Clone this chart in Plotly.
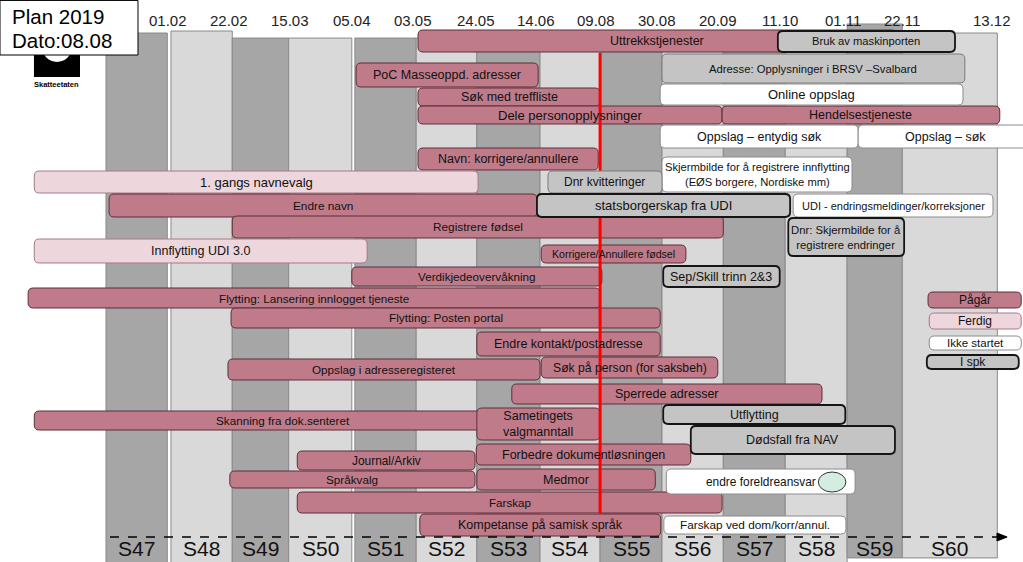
import plotly.graph_objects as go

# ---------------- data ----------------
sprints = ["S47", "S48", "S49", "S50", "S51", "S52", "S53", "S54", "S55", "S56", "S57", "S58", "S59", "S60"]
sprint_start = [0.00, 1.06, 2.06, 2.98, 4.06, 5.06, 6.05, 7.08, 8.06, 9.07, 10.07, 11.08, 12.09, 12.99]
sprint_end = [1.00, 2.06, 2.98, 4.01, 5.06, 6.05, 7.08, 8.06, 9.07, 10.07, 11.08, 12.09, 12.99, 14.54]
sprint_top = [1.50, 1.41, 1.73, 1.73, 1.73, 1.73, 1.73, 1.73, 1.73, 1.73, 1.73, 1.73, 1.09, 1.50]
sprint_bottom = [25.6, 25.6, 25.6, 25.6, 25.6, 25.6, 25.6, 25.6, 25.6, 25.6, 25.6, 25.6, 25.36, 25.36]
sprint_shade = ["dark", "light"] * 7

date_labels = ["01.02", "22.02", "15.03", "05.04", "03.05", "24.05", "14.06",
               "09.08", "30.08", "20.09", "11.10", "01.11", "22.11", "13.12"]
date_pos = [1.01, 2.01, 3.00, 4.01, 5.01, 6.04, 7.01, 7.99, 8.99, 9.98, 10.99, 12.02, 12.99, 14.45]

today_pos = 8.06  # 08.08

task_names = [
    "Uttrekkstjenester", "PoC Masseoppd. adresser", "Søk med treffliste", "Dele personopplysninger",
    "Hendelsestjeneste", "Navn: korrigere/annullere", "1. gangs navnevalg", "Endre navn",
    "Registrere fødsel", "Innflytting UDI 3.0", "Korrigere/Annullere fødsel", "Verdikjedeovervåkning",
    "Flytting: Lansering innlogget tjeneste", "Flytting: Posten portal", "Endre kontakt/postadresse",
    "Oppslag i adresseregisteret", "Søk på person (for saksbeh)", "Sperrede adresser",
    "Skanning fra dok.senteret", "Sametingets<br>valgmanntall", "Forbedre dokumentløsningen",
    "Journal/Arkiv", "Språkvalg", "Medmor", "Farskap", "Kompetanse på samisk språk",
    "Bruk av maskinporten", "Adresse: Opplysninger i BRSV –Svalbard", "Online oppslag",
    "Oppslag – entydig søk", "Oppslag – søk",
    "Skjermbilde for å registrere innflytting<br>(EØS borgere, Nordiske mm)",
    "Dnr kvitteringer", "statsborgerskap fra UDI", "UDI - endringsmeldinger/korreksjoner",
    "Dnr: Skjermbilde for å<br>registrere endringer", "Sep/Skill trinn 2&3", "Utflytting",
    "Dødsfall fra NAV", "endre foreldreansvar", "Farskap ved dom/korr/annul.",
]
task_start = [5.09, 4.08, 5.09, 5.09, 10.05, 5.09, -1.17, 0.05, 2.06, -1.17, 7.10, 4.01,
              -1.27, 2.04, 6.05, 1.99, 7.10, 6.62, -1.17, 6.05, 6.04, 3.12, 2.02, 6.05, 3.12, 5.12,
              10.96, 9.07, 9.04, 9.04, 12.27, 9.07, 7.21, 7.03, 11.21, 11.13, 9.09, 9.09, 9.54, 9.14, 9.10]
task_end = [12.90, 7.05, 8.06, 10.05, 14.58, 8.03, 6.07, 7.03, 10.07, 4.26, 9.46, 8.09,
            8.06, 9.04, 9.04, 7.08, 9.98, 11.68, 6.95, 8.06, 9.54, 6.02, 6.02, 8.96, 10.05, 9.05,
            13.85, 14.01, 13.98, 12.27, 15.12, 12.17, 9.07, 11.16, 14.47, 13.02, 10.99, 12.06, 12.87, 12.22, 12.07]
task_row = [1.864, 3.409, 4.409, 5.227, 5.227, 7.227, 8.273, 9.341, 10.318, 11.409, 11.545, 12.568,
            13.545, 14.455, 15.636, 16.795, 16.705, 17.909, 19.114, 19.273, 20.659, 20.932, 21.795,
            21.795, 22.841, 23.864,
            1.886, 3.114, 4.295, 6.205, 6.205, 7.932, 8.273, 9.341, 9.341, 10.773, 12.568, 18.841,
            20.0, 21.886, 23.864]
task_height = [1.0, 1.09, 0.818, 0.818, 0.818, 1.0, 1.0, 1.045, 1.0, 1.09, 0.818, 0.864,
               0.909, 0.909, 1.09, 0.955, 0.955, 0.909, 0.864, 1.455, 0.955, 0.864, 0.773,
               0.955, 0.955, 1.0,
               0.955, 1.318, 0.955, 1.045, 1.045, 1.591, 1.0, 1.045, 1.045, 1.727, 0.955, 0.864,
               1.273, 1.136, 0.818]
task_status = ["P", "P", "P", "P", "P", "P", "F", "P", "P", "F", "P", "P",
               "P", "P", "P", "P", "P", "P", "P", "P", "P", "P", "P", "P", "P", "P",
               "S", "S", "W", "W", "W", "W", "S", "S", "W", "S", "S", "S", "S", "W", "W"]
task_font = [12.5, 12.5, 12.5, 13, 12.5, 12.5, 13, 11.8, 11.8, 12.5, 10.6, 11.7,
             11.7, 11.8, 12.5, 11.7, 12.2, 12.5, 11.7, 12.5, 12.5, 11.9, 11.7, 12.5, 11.6, 12.5,
             11.2, 11.3, 13, 12.5, 12.5, 11.2, 12, 13, 11, 11.3, 12.5, 12.5, 12.5, 11.9, 11.8]
thin_border_tasks = ["Adresse: Opplysninger i BRSV –Svalbard", "Dnr kvitteringer"]

legend_labels = ["Pågår", "Ferdig", "Ikke startet", "I spk"]
legend_status = ["P", "F", "W", "S"]
legend_start = [13.41, 13.43, 13.43, 13.39]
legend_end = [14.93, 14.93, 14.93, 14.89]
legend_row = [13.636, 14.591, 15.591, 16.455]
legend_height = [0.727, 0.727, 0.636, 0.636]

# ---------------- styles / scale ----------------
W, H = 1023, 562
XR = (-1.729, 14.959)
YR = (25.545, 0.0)
PX_X = W / (XR[1] - XR[0])
PX_Y = H / (YR[0] - YR[1])
FONT = "Liberation Sans, Arial, sans-serif"

fill = {"P": "#bf7b8a", "F": "#edd6dc", "W": "#ffffff", "S": "#c4c4c4"}
edge = {"P": "#5e2f3a", "F": "#a57a86", "W": "#8c8c8c", "S": "#151515"}
edge_w = {"P": 1, "F": 1, "W": 1, "S": 1.8}


def rpath(x0, x1, y0, y1, r=5):
    rx = min(r / PX_X, (x1 - x0) / 2)
    ry = min(r / PX_Y, abs(y1 - y0) / 2)
    return (f"M {x0+rx},{y0} L {x1-rx},{y0} Q {x1},{y0} {x1},{y0+ry} "
            f"L {x1},{y1-ry} Q {x1},{y1} {x1-rx},{y1} L {x0+rx},{y1} "
            f"Q {x0},{y1} {x0},{y1-ry} L {x0},{y0+ry} Q {x0},{y0} {x0+rx},{y0} Z")


shapes = []
annotations = []

# sprint columns
for name, s, e, t, b, sh in zip(sprints, sprint_start, sprint_end, sprint_top, sprint_bottom, sprint_shade):
    shapes.append(dict(type="rect", xref="x", yref="y", x0=s, x1=e, y0=t, y1=b,
                       fillcolor="#a6a6a6" if sh == "dark" else "#d9d9d9",
                       line=dict(color="#8a8a8a", width=1)))
    annotations.append(dict(x=(s + e) / 2, y=24.95, xref="x", yref="y", text=name, showarrow=False,
                            font=dict(family=FONT, size=21, color="#111"),
                            xanchor="center", yanchor="middle"))

# date labels
for lab, p in zip(date_labels, date_pos):
    annotations.append(dict(x=p, y=0.95, xref="x", yref="y", text=lab, showarrow=False,
                            font=dict(family=FONT, size=15, color="#222"),
                            xanchor="center", yanchor="middle"))

# logo
shapes.append(dict(type="rect", xref="x", yref="y", x0=-1.175, x1=-0.424, y0=1.82, y1=3.5,
                   fillcolor="#000", line=dict(width=0)))
shapes.append(dict(type="circle", xref="x", yref="y", x0=-1.044, x1=-0.555, y0=1.455, y1=2.818,
                   fillcolor="#fff", line=dict(width=0)))
annotations.append(dict(x=-0.80, y=3.86, xref="x", yref="y", text="<b>Skatteetaten</b>", showarrow=False,
                        font=dict(family=FONT, size=7.5, color="#000"), xanchor="center", yanchor="middle"))

# plan box
shapes.append(dict(type="rect", xref="x", yref="y", x0=-1.729, x1=0.522, y0=0.02, y1=2.5,
                   fillcolor="#fff", line=dict(color="#000", width=1)))
annotations.append(dict(x=-1.566, y=0.73, xref="x", yref="y", text="Plan 2019", showarrow=False,
                        font=dict(family=FONT, size=20.5, color="#000"), xanchor="left", yanchor="middle"))
annotations.append(dict(x=-1.566, y=1.86, xref="x", yref="y", text="Dato:08.08", showarrow=False,
                        font=dict(family=FONT, size=20.5, color="#000"), xanchor="left", yanchor="middle"))


def add_bar(name, s, e, row, h, st, fs):
    y0, y1 = row - h / 2, row + h / 2
    if name in thin_border_tasks:
        ln = dict(color="#7a7a7a", width=1)
    else:
        ln = dict(color=edge[st], width=edge_w[st])
    shapes.append(dict(type="path", xref="x", yref="y", path=rpath(s, e, y0, y1),
                       fillcolor=fill[st], line=ln))
    annotations.append(dict(x=(s + e) / 2, y=row, xref="x", yref="y", text=name, showarrow=False,
                            font=dict(family=FONT, size=fs, color="#111"),
                            xanchor="center", yanchor="middle", align="center"))


tasks = list(zip(task_names, task_start, task_end, task_row, task_height, task_status, task_font))
# in-progress / done tasks first
for t in tasks:
    if t[5] in ("P", "F"):
        add_bar(*t)

# today line
shapes.append(dict(type="line", xref="x", yref="y", x0=today_pos, x1=today_pos, y0=2.41, y1=23.32,
                   line=dict(color="#ff0000", width=3)))

for t in tasks:
    if t[5] in ("W", "S"):
        add_bar(*t)

# ellipse marker
shapes.append(dict(type="circle", xref="x", yref="y", x0=11.62, x1=12.07, y0=21.455, y1=22.364,
                   fillcolor="#d3eee1", line=dict(color="#333", width=1)))

# legend
for lab, st, s, e, r, h in zip(legend_labels, legend_status, legend_start, legend_end, legend_row, legend_height):
    add_bar(lab, s, e, r, h, st, 12 if lab != "Ikke startet" else 11.5)

# dashed timeline arrow
shapes.append(dict(type="line", xref="x", yref="y", x0=0.065, x1=14.55, y0=24.41, y1=24.41,
                   line=dict(color="#000", width=1.5, dash="dash")))
shapes.append(dict(type="path", xref="x", yref="y",
                   path="M 14.535,24.23 L 14.70,24.41 L 14.535,24.59 Z",
                   fillcolor="#000", line=dict(color="#000", width=1)))

fig = go.Figure()
fig.add_trace(go.Scatter(x=[XR[0]], y=[YR[1]], mode="markers", marker=dict(opacity=0),
                         hoverinfo="skip", showlegend=False))
fig.update_layout(
    width=W, height=H, margin=dict(l=0, r=0, t=0, b=0),
    paper_bgcolor="#fff", plot_bgcolor="#fff",
    xaxis=dict(range=list(XR), visible=False, fixedrange=True),
    yaxis=dict(range=list(YR), visible=False, fixedrange=True),
    shapes=shapes, annotations=annotations, showlegend=False,
)
fig.write_html("out.html", config={"displayModeBar": False},
               post_script="document.body.style.margin='0';document.body.style.overflow='hidden';")
